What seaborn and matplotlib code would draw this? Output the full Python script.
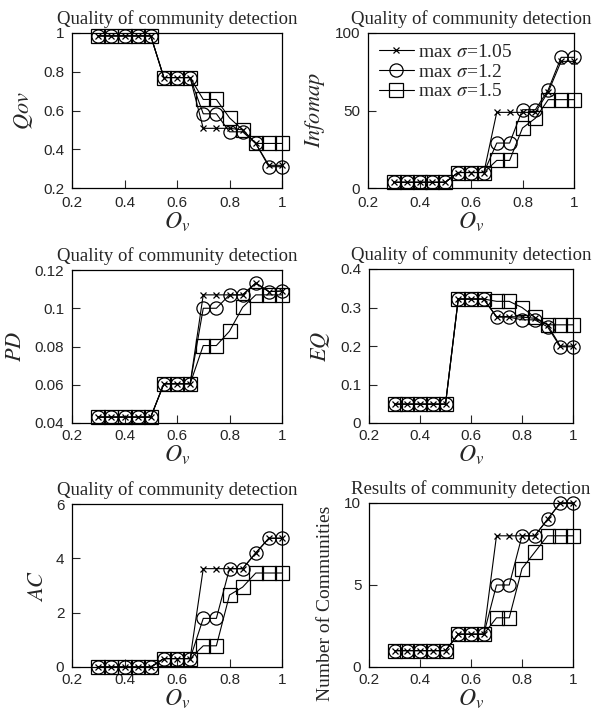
import matplotlib
matplotlib.use("Agg")
import matplotlib.pyplot as plt
import seaborn as sns
import pandas as pd

sns.set_theme(style="white")
plt.rcParams['font.family'] = ['Liberation Sans', 'DejaVu Sans']
plt.rcParams['mathtext.fontset'] = 'stix'

ov = [0.3, 0.35, 0.4, 0.45, 0.5, 0.55, 0.6, 0.65, 0.7, 0.75, 0.8, 0.85, 0.9, 0.95, 1.0]
series_names = ["max $\\sigma$=1.05", "max $\\sigma$=1.2", "max $\\sigma$=1.5"]

qov_105 = [0.985]*5 + [0.77]*3 + [0.508, 0.508, 0.508, 0.50, 0.43, 0.317, 0.317]
qov_12  = [0.985]*5 + [0.77]*3 + [0.583, 0.583, 0.49, 0.49, 0.43, 0.31, 0.31]
qov_15  = [0.985]*5 + [0.77]*3 + [0.657, 0.657, 0.562, 0.50, 0.43, 0.43, 0.43]

inf_105 = [3.7]*5 + [10]*3 + [48.8, 48.8, 48.8, 48.8, 62, 81.7, 81.7]
inf_12  = [3.7]*5 + [10]*3 + [29, 29, 50.5, 50.5, 63.4, 84.3, 84.3]
inf_15  = [3.7]*5 + [10]*3 + [17.8, 17.8, 38.7, 45, 57, 57, 57]

pd_105 = [0.0431]*5 + [0.0605]*3 + [0.107, 0.107, 0.107, 0.107, 0.1132, 0.1087, 0.109]
pd_12  = [0.0431]*5 + [0.0605]*3 + [0.100, 0.100, 0.107, 0.107, 0.1132, 0.1087, 0.109]
pd_15  = [0.0431]*5 + [0.0605]*3 + [0.0805, 0.0805, 0.088, 0.1005, 0.107, 0.107, 0.107]

eq_105 = [0.049]*5 + [0.322]*3 + [0.2765, 0.2765, 0.275, 0.272, 0.255, 0.2, 0.2]
eq_12  = [0.049]*5 + [0.322]*3 + [0.275, 0.275, 0.268, 0.268, 0.25, 0.198, 0.198]
eq_15  = [0.049]*5 + [0.322]*3 + [0.316, 0.316, 0.30, 0.275, 0.255, 0.255, 0.255]

ac_105 = [0.0]*5 + [0.31]*3 + [3.62, 3.62, 3.62, 3.62, 4.2, 4.74, 4.74]
ac_12  = [0.0]*5 + [0.31]*3 + [1.79, 1.79, 3.62, 3.62, 4.2, 4.74, 4.74]
ac_15  = [0.0]*5 + [0.31]*3 + [0.78, 0.78, 2.65, 2.94, 3.46, 3.46, 3.46]

nc_105 = [1]*5 + [2]*3 + [8, 8, 8, 8, 9, 10, 10]
nc_12  = [1]*5 + [2]*3 + [5, 5, 8, 8, 9, 10, 10]
nc_15  = [1]*5 + [2]*3 + [3, 3, 6, 7, 8, 8, 8]

panels = [
    dict(title="Quality of community detection", ylabel="$Qov$", data=[qov_105, qov_12, qov_15],
         ylim=(0.2, 1.0), yticks=[0.2, 0.4, 0.6, 0.8, 1.0], yticklabels=["0.2", "0.4", "0.6", "0.8", "1"]),
    dict(title="Quality of community detection", ylabel="$Infomap$", data=[inf_105, inf_12, inf_15],
         ylim=(0, 100), yticks=[0, 50, 100], yticklabels=["0", "50", "100"]),
    dict(title="Quality of community detection", ylabel="$PD$", data=[pd_105, pd_12, pd_15],
         ylim=(0.04, 0.12), yticks=[0.04, 0.06, 0.08, 0.1, 0.12], yticklabels=["0.04", "0.06", "0.08", "0.1", "0.12"]),
    dict(title="Quality of community detection", ylabel="$EQ$", data=[eq_105, eq_12, eq_15],
         ylim=(0, 0.4), yticks=[0, 0.1, 0.2, 0.3, 0.4], yticklabels=["0", "0.1", "0.2", "0.3", "0.4"]),
    dict(title="Quality of community detection", ylabel="$AC$", data=[ac_105, ac_12, ac_15],
         ylim=(0, 6), yticks=[0, 2, 4, 6], yticklabels=["0", "2", "4", "6"]),
    dict(title="Results of community detection", ylabel="Number of Communities", data=[nc_105, nc_12, nc_15],
         ylim=(0, 10), yticks=[0, 5, 10], yticklabels=["0", "5", "10"]),
]

xticks = [0.2, 0.4, 0.6, 0.8, 1.0]
xticklabels = ["0.2", "0.4", "0.6", "0.8", "1"]

W, H = 592, 712
fig = plt.figure(figsize=(W/100, H/100), dpi=100)
rects_px = [
    (72, 33, 282, 188), (368, 33, 574, 188),
    (72, 270, 282, 423), (369, 269, 573, 423),
    (72, 504, 282, 667), (369, 503, 573, 667),
]
xpads = [6, 6, 4.5, 4.5, 4.5, 4.5]
markers = [dict(marker='x', markersize=4.5, markeredgewidth=0.9),
           dict(marker='o', markersize=9.5, markerfacecolor='none', markeredgewidth=0.9),
           dict(marker='s', markersize=9.5, markerfacecolor='none', markeredgewidth=0.9)]

serif = ['Liberation Serif', 'DejaVu Serif']
for i, (p, r) in enumerate(zip(panels, rects_px)):
    l, t, rr, b = r
    ax = fig.add_axes([l/W, 1 - b/H, (rr-l)/W, (b-t)/H])
    for name, ys, mk in zip(series_names, p["data"], markers):
        df = pd.DataFrame({"ov": ov, "val": ys})
        sns.lineplot(data=df, x="ov", y="val", ax=ax, color='black', lw=0.8,
                     markeredgecolor='black', label=name, legend=False, clip_on=False, **mk)
    ax.set_xlim(0.2, 1.0)
    ax.set_ylim(*p["ylim"])
    ax.set_xticks(xticks)
    ax.set_xticklabels(xticklabels)
    ax.set_yticks(p["yticks"])
    ax.set_yticklabels(p["yticklabels"])
    ax.tick_params(direction='in', length=6, width=0.8, labelsize=11,
                   bottom=True, left=True, top=False, right=False)
    ax.tick_params(axis='x', pad=xpads[i])
    ax.tick_params(axis='y', pad=5.5)
    for s in ax.spines.values():
        s.set_color('black')
        s.set_linewidth(0.9)
    ax.set_title(p["title"], family=serif, fontsize=13.5, pad=6.5)
    ax.set_xlabel("$O_v$", fontsize=17, labelpad=0)
    if p["ylabel"].startswith("$"):
        ax.set_ylabel(p["ylabel"], fontsize=16, labelpad=6)
    else:
        ax.set_ylabel(p["ylabel"], family=serif, fontsize=14, labelpad=6)
        ax.yaxis.set_label_coords(-0.17, 0.39)
    if i == 1:
        leg = ax.legend(loc='upper left', frameon=False, fontsize=14, handlelength=1.8,
                        handletextpad=0.2, borderaxespad=0.15, labelspacing=0.1)
        for txt in leg.get_texts():
            txt.set_family(serif)

fig.savefig("out.png", dpi=100)
